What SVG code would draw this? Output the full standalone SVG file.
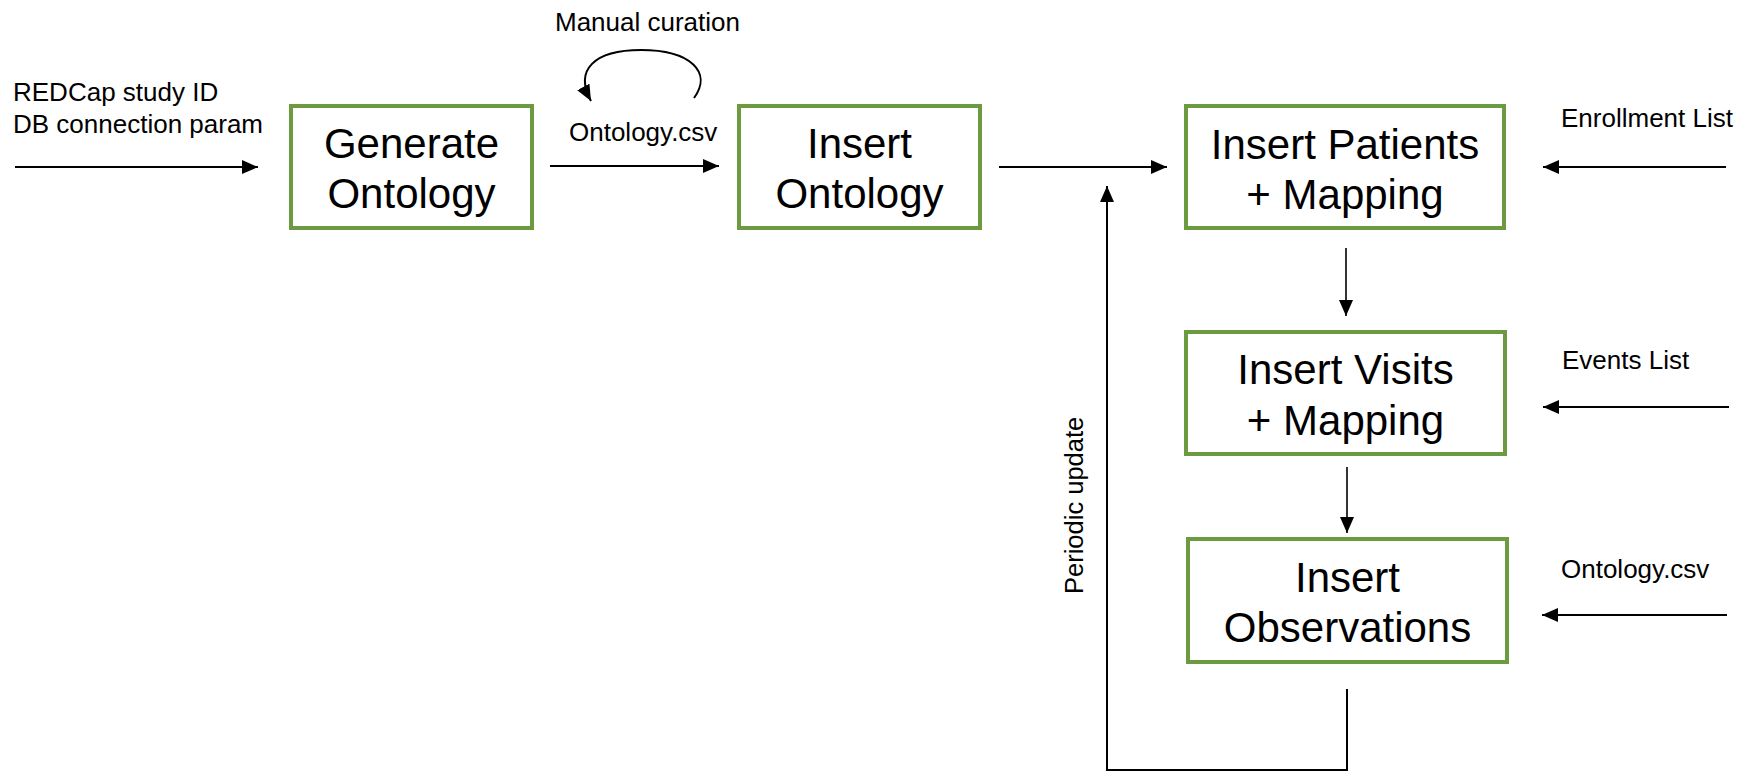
<svg xmlns="http://www.w3.org/2000/svg" width="1756" height="772" viewBox="0 0 1756 772">
  <style>
    .box { fill: #ffffff; stroke: #6c9a40; stroke-width: 4; }
    .big { font-family: "Liberation Sans", Arial, sans-serif; font-size: 42px; fill: #000; text-anchor: middle; }
    .lbl { font-family: "Liberation Sans", Arial, sans-serif; font-size: 26px; fill: #000; }
    .conn { fill: none; stroke: #000; stroke-width: 2; }
  </style>
  <defs>
    <marker id="arrow" markerUnits="userSpaceOnUse" markerWidth="16" markerHeight="14" refX="16" refY="7" orient="auto">
      <path d="M0,0 L16,7 L0,14 z" fill="#000"/>
    </marker>
  </defs>
  <rect width="1756" height="772" fill="#ffffff"/>

  <g id="connectors">
    <line class="conn" x1="15" y1="167" x2="258" y2="167" marker-end="url(#arrow)"/>
    <line class="conn" x1="550" y1="166" x2="719" y2="166" marker-end="url(#arrow)"/>
    <path class="conn" d="M 694 98 C 713 72, 690 50, 641 50 C 594 50, 574 70, 591 101" marker-end="url(#arrow)"/>
    <line class="conn" x1="999" y1="167" x2="1167" y2="167" marker-end="url(#arrow)"/>
    <line class="conn" x1="1726" y1="167" x2="1543" y2="167" marker-end="url(#arrow)"/>
    <line class="conn" x1="1729" y1="407" x2="1543" y2="407" marker-end="url(#arrow)"/>
    <line class="conn" x1="1727" y1="615" x2="1542" y2="615" marker-end="url(#arrow)"/>
    <line class="conn" x1="1346" y1="248" x2="1346" y2="316" marker-end="url(#arrow)" style="stroke-width:1.6"/>
    <line class="conn" x1="1347" y1="467" x2="1347" y2="533" marker-end="url(#arrow)" style="stroke-width:1.6"/>
    <polyline class="conn" points="1347,689 1347,770 1107,770 1107,186" marker-end="url(#arrow)"/>
  </g>

  <g id="labels">
    <text class="lbl" x="13" y="101">REDCap study ID</text>
    <text class="lbl" x="13" y="133">DB connection param</text>
    <text class="lbl" x="555" y="31">Manual curation</text>
    <text class="lbl" x="569" y="141">Ontology.csv</text>
    <text class="lbl" x="1561" y="127">Enrollment List</text>
    <text class="lbl" x="1562" y="369">Events List</text>
    <text class="lbl" x="1561" y="578">Ontology.csv</text>
    <text class="lbl" transform="translate(1083,594) rotate(-90)" style="font-size:25.5px">Periodic update</text>
  </g>

  <g id="generate-ontology">
    <rect class="box" x="291" y="106" width="241" height="122"/>
    <text class="big" x="411.5" y="158">Generate</text>
    <text class="big" x="411.5" y="208">Ontology</text>
  </g>

  <g id="insert-ontology">
    <rect class="box" x="739" y="106" width="241" height="122"/>
    <text class="big" x="859.5" y="158">Insert</text>
    <text class="big" x="859.5" y="208">Ontology</text>
  </g>

  <g id="insert-patients">
    <rect class="box" x="1186" y="106" width="318" height="122"/>
    <text class="big" x="1345" y="159">Insert Patients</text>
    <text class="big" x="1345" y="209">+ Mapping</text>
  </g>

  <g id="insert-visits">
    <rect class="box" x="1186" y="332" width="319" height="122"/>
    <text class="big" x="1345.5" y="384">Insert Visits</text>
    <text class="big" x="1345.5" y="435">+ Mapping</text>
  </g>

  <g id="insert-observations">
    <rect class="box" x="1188" y="539" width="319" height="123"/>
    <text class="big" x="1347.5" y="592">Insert</text>
    <text class="big" x="1347.5" y="642">Observations</text>
  </g>
</svg>
